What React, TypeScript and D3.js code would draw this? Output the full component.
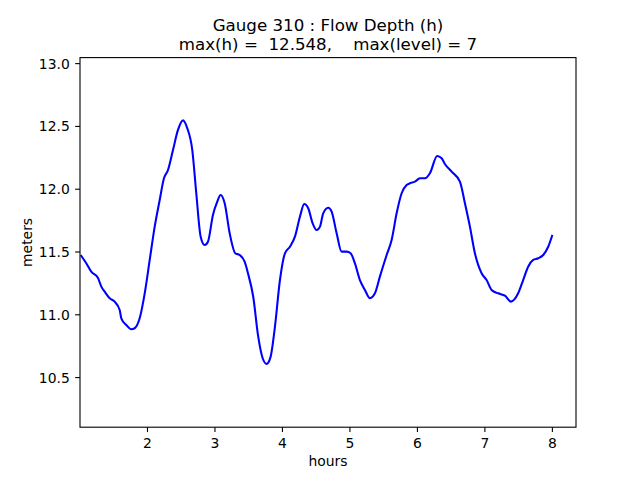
import React from "react";
import * as d3 from "d3";

const hours = [
  1.01, 1.093, 1.167, 1.267, 1.316, 1.366, 1.44, 1.514, 1.588, 1.612, 1.686, 1.76, 1.81, 1.884, 1.959,
  2.033, 2.107, 2.181, 2.244, 2.304, 2.378, 2.452, 2.526, 2.59, 2.664, 2.723, 2.788, 2.847, 2.896, 2.97,
  3.034, 3.084, 3.144, 3.218, 3.301, 3.366, 3.44, 3.489, 3.567, 3.641, 3.707, 3.766, 3.825, 3.889, 3.963,
  4.037, 4.111, 4.185, 4.259, 4.323, 4.382, 4.447, 4.507, 4.556, 4.604, 4.679, 4.729, 4.803, 4.877, 4.951,
  5.01, 5.074, 5.148, 5.222, 5.296, 5.37, 5.444, 5.544, 5.618, 5.692, 5.766, 5.84, 5.889, 5.963, 6.037,
  6.111, 6.185, 6.293, 6.359, 6.407, 6.507, 6.63, 6.704, 6.778, 6.852, 6.951, 7.025, 7.099, 7.197, 7.296,
  7.385, 7.493, 7.567, 7.641, 7.716, 7.79, 7.864, 7.938, 8.0,
];
const depth = [
  11.476, 11.41, 11.343, 11.293, 11.224, 11.184, 11.132, 11.105, 11.038, 10.972, 10.919, 10.885, 10.893, 10.972, 11.171,
  11.437, 11.702, 11.914, 12.087, 12.153, 12.312, 12.472, 12.548, 12.485, 12.312, 11.968, 11.622, 11.556, 11.582, 11.795,
  11.901, 11.954, 11.888, 11.649, 11.49, 11.476, 11.423, 11.331, 11.144, 10.826, 10.654, 10.609, 10.667, 10.906, 11.277,
  11.49, 11.542, 11.622, 11.781, 11.882, 11.848, 11.729, 11.675, 11.702, 11.808, 11.853, 11.821, 11.649, 11.503, 11.503,
  11.49, 11.41, 11.277, 11.198, 11.132, 11.171, 11.304, 11.476, 11.596, 11.808, 11.968, 12.034, 12.047, 12.06, 12.087,
  12.087, 12.127, 12.265, 12.246, 12.201, 12.14, 12.06, 11.888, 11.702, 11.49, 11.331, 11.277, 11.198, 11.171, 11.152,
  11.105, 11.171, 11.277, 11.383, 11.437, 11.45, 11.476, 11.542, 11.636,
];
const xTicks = [2, 3, 4, 5, 6, 7, 8];
const yTicks = [10.5, 11.0, 11.5, 12.0, 12.5, 13.0];
const titleLines = ["Gauge 310 : Flow Depth (h)", "max(h) =  12.548,    max(level) = 7"];
const xLabel = "hours";
const yLabel = "meters";

export default function App() {
  const W = 640, H = 480;
  const L = 80, R = 576, T = 57.6, B = 427.2;
  const hMax = 12.548, hMin = 10.605;
  const x = d3.scaleLinear().domain([1.0, 8.35]).range([L, R]);
  const y = d3.scaleLinear().domain([hMin - 0.5, hMax + 0.5]).range([B, T]);
  const line = d3
    .line<number>()
    .x((_, i) => x(hours[i]))
    .y((d) => y(d))
    .curve(d3.curveMonotoneX);
  const font = "DejaVu Sans, sans-serif";
  const tick = 4.86;
  return (
    <svg width={W} height={H} style={{ position: "absolute", left: 0, top: 0, background: "#fff" }} fontFamily={font}>
      <rect x={0} y={0} width={W} height={H} fill="#fff" />
      <defs>
        <clipPath id="plotclip">
          <rect x={L} y={T} width={R - L} height={B - T} />
        </clipPath>
      </defs>
      <path d={line(depth) || ""} fill="none" stroke="#0000ff" strokeWidth={2.08} strokeLinejoin="round" clipPath="url(#plotclip)" />
      <rect x={L} y={T} width={R - L} height={B - T} fill="none" stroke="#000" strokeWidth={1.1} />
      {xTicks.map((t) => (
        <g key={"x" + t}>
          <line x1={x(t)} x2={x(t)} y1={B} y2={B + tick} stroke="#000" strokeWidth={1.1} />
          <text x={x(t)} y={447.5} fontSize={13.9} textAnchor="middle" fill="#000">{t}</text>
        </g>
      ))}
      {yTicks.map((t) => (
        <g key={"y" + t}>
          <line x1={L - tick} x2={L} y1={y(t)} y2={y(t)} stroke="#000" strokeWidth={1.1} />
          <text x={L - 2 * tick - 0.5} y={y(t)} dy="0.36em" fontSize={13.9} textAnchor="end" fill="#000">{t.toFixed(1)}</text>
        </g>
      ))}
      <text x={(L + R) / 2} y={466} fontSize={13.9} textAnchor="middle" fill="#000">{xLabel}</text>
      <text transform={`translate(32,${(T + B) / 2}) rotate(-90)`} fontSize={13.9} textAnchor="middle" fill="#000">{yLabel}</text>
      {titleLines.map((s, i) => (
        <text key={i} x={(L + R) / 2} y={30.5 + i * 19.2} fontSize={16.67} textAnchor="middle" fill="#000" style={{ whiteSpace: "pre" }}>{s}</text>
      ))}
    </svg>
  );
}
